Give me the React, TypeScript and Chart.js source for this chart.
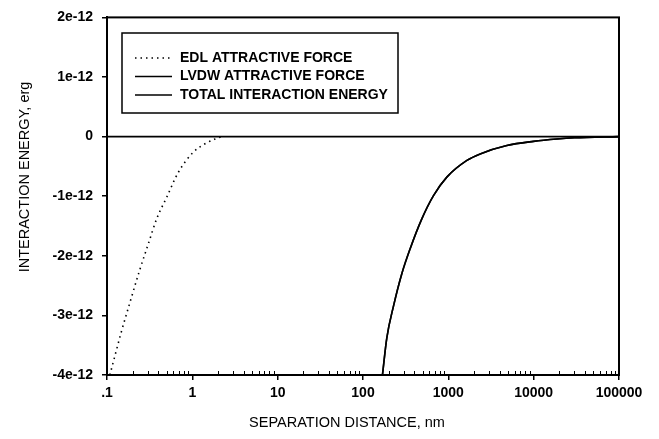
import React, { useEffect, useRef } from "react";
import { Chart, registerables } from "chart.js";

Chart.register(...registerables);

// Separation distance (nm) and interaction energy (units of 1e-12 erg)
const edlX = [0.108, 0.149, 0.186, 0.244, 0.305, 0.382, 0.5, 0.685, 1.03, 1.41, 1.85, 2.2];
const edlY = [-4.0, -3.25, -2.78, -2.22, -1.8, -1.38, -1.02, -0.6, -0.26, -0.12, -0.04, 0];

const lvdwX = [169, 190, 228, 285, 357, 489, 670, 960, 1650, 2360, 4850, 9950, 18700, 30000, 100000];
const lvdwY = [-4.0, -3.38, -2.84, -2.3, -1.88, -1.38, -0.99, -0.68, -0.4, -0.29, -0.15, -0.08, -0.04, -0.02, 0];

const totalX = [169, 190, 228, 285, 357, 489, 670, 960, 1650, 2360, 4850, 9950, 18700, 30000, 100000];
const totalY = [-4.0, -3.38, -2.84, -2.3, -1.88, -1.38, -0.99, -0.68, -0.4, -0.29, -0.15, -0.08, -0.04, -0.02, 0];

const seriesLabels = ["EDL ATTRACTIVE FORCE", "LVDW ATTRACTIVE FORCE", "TOTAL INTERACTION ENERGY"];
const xTitle = "SEPARATION DISTANCE, nm";
const yTitle = "INTERACTION ENERGY, erg";

const xMajorTicks = [0.1, 1, 10, 100, 1000, 10000, 100000];
const xTickLabels = [".1", "1", "10", "100", "1000", "10000", "100000"];
const yMin = -4e-12;
const yMax = 2e-12;
const yStep = 1e-12;
const yUnit = 1e-12;

const FONT = "'Liberation Sans', Arial, Helvetica, sans-serif";

const isMajor = (v: number) => xMajorTicks.some((m) => Math.abs(v - m) / m < 1e-6);

const toPoints = (xs: number[], ys: number[]) => xs.map((x, i) => ({ x, y: ys[i] * yUnit }));

const framePlugin = {
  id: "frame",
  afterDatasetsDraw(chart: any) {
    const { ctx, chartArea: a, scales } = chart;
    const x = scales.x;
    const y = scales.y;
    ctx.save();
    ctx.strokeStyle = "#000";
    // zero line
    const y0 = y.getPixelForValue(0);
    ctx.lineWidth = 1.6;
    ctx.beginPath();
    ctx.moveTo(a.left, y0);
    ctx.lineTo(a.right, y0);
    ctx.stroke();
    // frame
    ctx.lineWidth = 2;
    ctx.strokeRect(a.left, a.top, a.right - a.left, a.bottom - a.top);
    // minor ticks inside bottom
    ctx.lineWidth = 1;
    ctx.beginPath();
    x.ticks.forEach((t: any) => {
      if (!isMajor(t.value)) {
        const px = Math.round(x.getPixelForValue(t.value)) + 0.5;
        ctx.moveTo(px, a.bottom);
        ctx.lineTo(px, a.bottom - 4);
      }
    });
    ctx.stroke();
    // legend box
    const bx = 122, by = 33, bw = 276, bh = 80;
    ctx.fillStyle = "#fff";
    ctx.fillRect(bx, by, bw, bh);
    ctx.lineWidth = 1.5;
    ctx.strokeRect(bx, by, bw, bh);
    ctx.font = `bold 14px ${FONT}`;
    ctx.textBaseline = "middle";
    ctx.textAlign = "left";
    ctx.fillStyle = "#000";
    const rows = [58, 76.5, 95];
    chart.data.datasets.forEach((ds: any, i: number) => {
      const ry = rows[i];
      ctx.save();
      ctx.lineWidth = ds.borderWidth;
      ctx.setLineDash(ds.borderDash || []);
      ctx.beginPath();
      ctx.moveTo(135, ry);
      ctx.lineTo(172, ry);
      ctx.stroke();
      ctx.restore();
      ctx.fillText(ds.label, 180, ry);
    });
    // axis titles
    ctx.font = `14.5px ${FONT}`;
    ctx.textAlign = "center";
    ctx.textBaseline = "middle";
    ctx.fillText(xTitle, 347, 423);
    ctx.save();
    ctx.translate(25, 177);
    ctx.rotate(-Math.PI / 2);
    ctx.fillText(yTitle, 0, 0);
    ctx.restore();
    ctx.restore();
  },
};

export default function App() {
  const ref = useRef<HTMLCanvasElement | null>(null);

  useEffect(() => {
    if (!ref.current) return;
    document.body.style.margin = "0";
    Chart.defaults.color = "#000";
    const chart = new Chart(ref.current, {
      type: "line",
      data: {
        datasets: [
          {
            label: seriesLabels[0],
            data: toPoints(edlX, edlY),
            borderColor: "#000",
            borderWidth: 1.6,
            borderDash: [1.5, 4],
            pointRadius: 0,
            cubicInterpolationMode: "monotone",
            fill: false,
          },
          {
            label: seriesLabels[1],
            data: toPoints(lvdwX, lvdwY),
            borderColor: "#000",
            borderWidth: 1.6,
            pointRadius: 0,
            cubicInterpolationMode: "monotone",
            fill: false,
          },
          {
            label: seriesLabels[2],
            data: toPoints(totalX, totalY),
            borderColor: "#000",
            borderWidth: 1.6,
            pointRadius: 0,
            cubicInterpolationMode: "monotone",
            fill: false,
          },
        ],
      },
      options: {
        animation: false,
        responsive: true,
        maintainAspectRatio: false,
        layout: { padding: { top: 17, right: 40, left: 0, bottom: 0 } },
        plugins: { legend: { display: false }, tooltip: { enabled: false } },
        scales: {
          x: {
            type: "logarithmic",
            min: 0.1,
            max: 100000,
            afterBuildTicks: (scale: any) => {
              const t: any[] = [];
              for (let d = -1; d <= 4; d++) {
                for (let m = 1; m <= 9; m++) t.push({ value: m * Math.pow(10, d) });
              }
              t.push({ value: 100000 });
              scale.ticks = t;
            },
            afterFit: (scale: any) => {
              scale.height = 64;
            },
            ticks: {
              autoSkip: false,
              maxRotation: 0,
              minRotation: 0,
              padding: 5,
              font: { family: FONT, size: 14, weight: "bold" },
              callback: (v: any) => {
                const idx = xMajorTicks.findIndex((m) => Math.abs(Number(v) - m) / m < 1e-6);
                return idx >= 0 ? xTickLabels[idx] : "";
              },
            },
            grid: {
              drawOnChartArea: false,
              drawTicks: true,
              tickLength: 5,
              lineWidth: 1.5,
              color: (ctx: any) => (ctx.tick && isMajor(ctx.tick.value) ? "#000" : "rgba(0,0,0,0)"),
            },
            border: { display: true, color: "#000", width: 2 },
            title: { display: false },
          },
          y: {
            type: "linear",
            min: yMin,
            max: yMax,
            afterFit: (scale: any) => {
              scale.width = 107;
            },
            ticks: {
              stepSize: yStep,
              padding: 9,
              font: { family: FONT, size: 14, weight: "bold" },
              callback: (v: any) => {
                const n = Math.round(Number(v) / yUnit);
                return n === 0 ? "0" : `${n}e-12`;
              },
            },
            grid: {
              drawOnChartArea: false,
              drawTicks: true,
              tickLength: 5,
              lineWidth: 1.5,
              color: "#000",
            },
            border: { display: true, color: "#000", width: 2 },
            title: { display: false },
          },
        },
      } as any,
      plugins: [framePlugin],
    });
    return () => chart.destroy();
  }, []);

  return (
    <div style={{ position: "fixed", left: 0, top: 0, width: 659, height: 439, background: "#fff" }}>
      <canvas ref={ref} />
    </div>
  );
}
